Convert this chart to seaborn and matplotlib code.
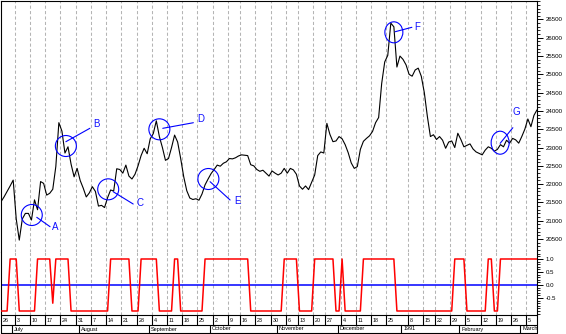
import numpy as np
import pandas as pd
import matplotlib
matplotlib.use('Agg')
import matplotlib.pyplot as plt
import seaborn as sns
from matplotlib.patches import Ellipse
from matplotlib.transforms import ScaledTranslation
from matplotlib.text import OffsetFrom
from matplotlib.ticker import MultipleLocator, FixedLocator, FuncFormatter

# ---------------- data ----------------
start_date = '1990-06-26'
holidays = ['1990-10-10', '1990-11-12', '1990-11-23',
            '1991-01-01', '1991-01-02', '1991-01-03', '1991-01-15']

price = [21520, 21650, 21800, 21950, 22110, 21050, 20470, 21050, 21200, 21200,
         21020, 21570, 21300, 22070, 22020, 21700, 21750, 21860, 22480, 23680,
         23450, 22850, 23020, 22550, 22200, 22430, 22100, 21890, 21650, 21760,
         21930, 21800, 21400, 21420, 21360, 21630, 21840, 21810, 22420, 22400,
         22300, 22520, 22220, 22140, 22270, 22500, 22780, 22980, 22830, 23240,
         23380, 23730, 23300, 23000, 22650, 22700, 23000, 23340, 23150, 22700,
         22200, 21820, 21620, 21580, 21600, 21560, 21730, 21980, 22140, 22290,
         22400, 22520, 22490, 22570, 22610, 22700, 22690, 22720, 22770, 22800,
         22790, 22780, 22530, 22500, 22400, 22350, 22380, 22300, 22220, 22360,
         22300, 22250, 22300, 22430, 22300, 22430, 22390, 22270, 21950, 21860,
         21950, 21850, 22050, 22250, 22780, 22880, 22850, 23660, 23360, 23160,
         23180, 23300, 23240, 23080, 22860, 22580, 22430, 22480, 22950, 23170,
         23250, 23320, 23440, 23680, 23820, 24750, 25340, 25520, 26400, 26300,
         25200, 25500, 25410, 25260, 25000, 24950, 25120, 25170, 24950, 24500,
         23850, 23300, 23350, 23220, 23300, 23200, 22980, 23150, 23180, 23000,
         23390, 23220, 23020, 23060, 23100, 22960, 22880, 22840, 22800, 22930,
         23020, 22980, 22900, 22950, 23080, 23020, 23200, 23120, 23250, 23210,
         23120, 23300, 23500, 23780, 23570, 23880, 24030]

signal = [-1, -1, -1, 1, 1, 1, -1, -1, -1, -1,
          -1, -1, 1, 1, 1, 1, 1, -0.7, 1, 1,
          1, 1, 1, -1, -1, -1, -1, -1, -1, -1,
          -1, -1, -1, -1, -1, -1, 1, 1, 1, 1,
          1, 1, 1, -1, -1, -1, 1, 1, 1, 1,
          1, 1, -1, -1, -1, -1, -1, 1, 1, -1,
          -1, -1, -1, -1, -1, -1, -1, 1, 1, 1,
          1, 1, 1, 1, 1, 1, 1, 1, 1, 1,
          1, 1, -1, -1, -1, -1, -1, -1, -1, -1,
          -1, -1, -1, 1, 1, 1, 1, 1, -1, -1,
          -1, -1, -1, 1, 1, 1, 1, 1, 1, 1,
          -1, -1, 1, -1, -1, -1, -1, -1, -1, 1,
          1, 1, 1, 1, 1, 1, 1, 1, 1, 1,
          -1, -1, -1, -1, -1, -1, -1, -1, -1, -1,
          -1, -1, -1, -1, -1, -1, -1, -1, -1, 1,
          1, 1, 1, -1, -1, -1, -1, -1, -1, -1,
          1, 1, -1, -1, 1, 1, 1, 1, 1, 1,
          1, 1, 1, 1, 1, 1, 1]

month_names = ['July', 'August', 'September', 'October', 'November',
               'December', '1991', 'February', 'March']

price_ticks = [20500, 21000, 21500, 22000, 22500, 23000, 23500, 24000,
               24500, 25000, 25500, 26000, 26500]
signal_ticks = [-0.5, 0.0, 0.5, 1.0]

note_labels = ['A', 'B', 'C', 'D', 'E', 'F', 'G']
note_day = [10.1, 21.3, 35.2, 52.0, 68.1, 129.0, 163.9]
note_price = [21156, 23042, 21858, 23498, 22140, 26149, 23132]

# ---------------- layout / style ----------------
sns.set_style('white')
plt.rcParams['font.family'] = ['Liberation Sans', 'DejaVu Sans']

W, H = 566, 334
fig = plt.figure(figsize=(W / 100, H / 100), dpi=100)


def rect(x0, y0, x1, y1):
    return [x0 / W, 1 - y1 / H, (x1 - x0) / W, (y1 - y0) / H]


ax_top = fig.add_axes(rect(1, 1, 537, 252))
ax_bot = fig.add_axes(rect(1, 252, 537, 315))
ax_date = fig.add_axes(rect(1, 315, 537, 333.5))

cal = pd.bdate_range(start_date, periods=len(price), freq='C', holidays=holidays)
df = pd.DataFrame({'day': np.arange(len(price)), 'price': price, 'signal': signal})

XMIN, XMAX = 0, len(price) - 1

sns.lineplot(data=df, x='day', y='price', ax=ax_top, color='black',
             linewidth=0.8, zorder=3)
sns.lineplot(data=df, x='day', y='signal', ax=ax_bot, color='#ff0000',
             linewidth=1.1, zorder=3)
ax_bot.axhline(0, color='#0000ff', lw=1.1, zorder=2)

# weekly ticks (Tuesdays)
tuesdays = pd.date_range(start_date, '1991-03-05', freq='7D')
tick_pos, tick_lab = [], []
raw = [(int(np.searchsorted(cal.values, t.to_datetime64())), t.day) for t in tuesdays]
for i, (p, d) in enumerate(raw):
    if i + 1 < len(raw) and raw[i + 1][0] - p < 3:
        continue
    tick_pos.append(p - 0.5)
    tick_lab.append(str(d))

month_starts = pd.date_range('1990-07-01', '1991-03-01', freq='MS')
month_pos = [int(np.searchsorted(cal.values, m.to_datetime64())) - 0.5 for m in month_starts]

for ax in (ax_top, ax_bot):
    ax.set_xlim(XMIN, XMAX)
    ax.set_xlabel('')
    ax.set_ylabel('')
    ax.set_xticks([])
    for p in tick_pos:
        if p > XMIN:
            ax.axvline(p, color='#b4b4b4', lw=0.75, ls=(0, (3, 2.2)), zorder=1)
    ax.yaxis.tick_right()
    ax.tick_params(axis='y', which='major', direction='out', length=4, width=0.7,
                   labelsize=4.4, pad=2.5, colors='black')
    ax.tick_params(axis='y', which='minor', direction='out', length=2.2, width=0.6,
                   colors='black')
    for s in ax.spines.values():
        s.set_color('black')
        s.set_linewidth(0.8)

ax_top.set_ylim(20145, 27005)
ax_top.yaxis.set_major_locator(FixedLocator(price_ticks))
ax_top.yaxis.set_minor_locator(MultipleLocator(100))
ax_top.yaxis.set_major_formatter(FuncFormatter(lambda v, p: f'{v:.0f}'))
ax_top.spines['bottom'].set_visible(False)

ax_bot.set_ylim(-1.154, 1.269)
ax_bot.yaxis.set_major_locator(FixedLocator(signal_ticks))
ax_bot.yaxis.set_minor_locator(MultipleLocator(0.1))
ax_bot.yaxis.set_major_formatter(FuncFormatter(lambda v, p: f'{v:.1f}'))
ax_bot.spines['top'].set_visible(False)
ax_bot.spines['bottom'].set_visible(False)

# ---------------- annotations ----------------
note_size = {'A': (21, 21), 'B': (21, 21), 'C': (21, 21), 'D': (21, 21),
             'E': (21, 21), 'F': (18, 21), 'G': (18, 23)}
lead_start = {'A': (5, -2.3), 'B': (0, 4.3), 'C': (5, -2.4), 'D': (3.4, 1),
              'E': (1.7, -2.7), 'F': (1.3, 0.6), 'G': (0, -0.6)}
lead_end = {'A': (18.3, -11.7), 'B': (24, 17.7), 'C': (25, -14.7), 'D': (34, 6.6),
            'E': (21.7, -21), 'F': (18, 5), 'G': (12.7, 15)}
text_off = {'A': (23.3, -12), 'B': (30.7, 22.3), 'C': (31.4, -14), 'D': (41, 10),
            'E': (29.5, -21.7), 'F': (23.1, 5.6), 'G': (16, 31)}
PT = 0.72  # points per pixel at 100 dpi
for lab, cx, cy in zip(note_labels, note_day, note_price):
    w, h = note_size[lab]
    tr = fig.dpi_scale_trans + ScaledTranslation(cx, cy, ax_top.transData)
    ax_top.add_patch(Ellipse((0, 0), width=w / 100, height=h / 100, transform=tr,
                             fill=False, edgecolor='#0000ff', lw=0.8, zorder=4))
    ref = OffsetFrom(ax_top.transData, (cx, cy), unit='points')
    s = lead_start[lab]
    e = lead_end[lab]
    ax_top.annotate('', xy=(s[0] * PT, s[1] * PT), xycoords=ref,
                    xytext=(e[0] * PT, e[1] * PT), textcoords=ref,
                    arrowprops=dict(arrowstyle='-', color='#0000ff', lw=0.8,
                                    shrinkA=0, shrinkB=0), zorder=4)
    t = text_off[lab]
    ax_top.annotate(lab, xy=(cx, cy), xycoords='data',
                    xytext=(t[0] * PT, t[1] * PT), textcoords='offset points',
                    ha='center', va='center', color='#1010ff', fontsize=7, zorder=5)

# ---------------- date strip ----------------
ax_date.set_xlim(XMIN, XMAX)
ax_date.set_ylim(18.5, 0)
ax_date.axis('off')
line_kw = dict(color='black', lw=0.8, clip_on=False)
ax_date.plot([XMIN, XMAX], [0.3, 0.3], **line_kw)
ax_date.plot([XMIN, XMAX], [10.3, 10.3], **line_kw)
ax_date.plot([XMIN, XMAX], [18.3, 18.3], **line_kw)
ax_date.plot([XMIN, XMIN], [0.3, 18.3], **line_kw)
ax_date.plot([XMAX, XMAX], [0.3, 18.3], **line_kw)
for p, lab in zip(tick_pos, tick_lab):
    if p > XMIN:
        ax_date.plot([p, p], [0.3, 10.3], **line_kw)
    ax_date.text(max(p, XMIN) + 0.6, 5.0, lab, ha='left', va='center',
                 fontsize=3.9, color='black', clip_on=True)
for p, lab in zip(month_pos, month_names):
    ax_date.plot([p, p], [10.3, 18.3], **line_kw)
    ax_date.text(p + 0.6, 14.0, lab, ha='left', va='center', fontsize=4.0,
                 color='black', clip_on=True)

fig.savefig('out.png', dpi=100)
